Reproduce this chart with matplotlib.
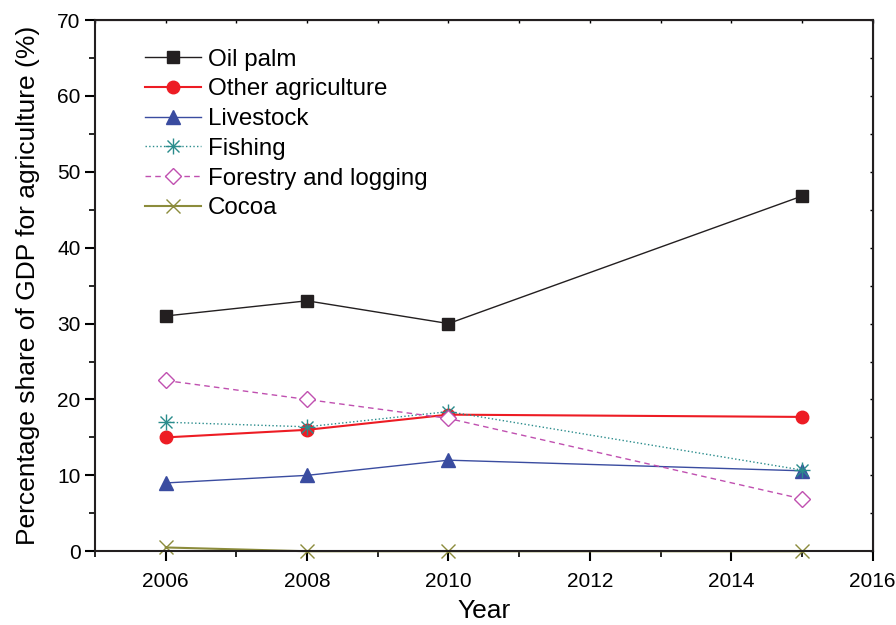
import matplotlib
matplotlib.use('Agg')
import matplotlib.pyplot as plt
from matplotlib.ticker import MultipleLocator

plt.rcParams['font.family'] = ['Liberation Sans', 'DejaVu Sans']

years = [2006, 2008, 2010, 2015]
oil_palm = [31, 33, 30, 46.8]
other_agri = [15, 16, 18, 17.7]
livestock = [9, 10, 12, 10.6]
fishing = [17, 16.4, 18.4, 10.7]
forestry = [22.5, 20, 17.5, 6.9]
cocoa = [0.5, 0, 0, 0]

fig = plt.figure(figsize=(8.96, 6.25), dpi=100)
ax = fig.add_axes([0.106, 0.118, 0.868, 0.85])

ax.plot(years, oil_palm, color='#231f20', lw=1, marker='s', ms=8, label='Oil palm')
ax.plot(years, other_agri, color='#ed1c24', lw=1.5, marker='o', ms=9, label='Other agriculture')
ax.plot(years, livestock, color='#3a4ca0', lw=1, marker='^', ms=10, label='Livestock')
# asterisk marker = x + plus drawn together
fish_line, = ax.plot(years, fishing, color='#2a8c8c', lw=1, ls=':', marker='x', ms=9, mew=1)
fish_plus, = ax.plot(years, fishing, color='#2a8c8c', lw=0, marker='+', ms=12, mew=1)
ax.plot(years, forestry, color='#c050b0', lw=1, ls=(0, (4, 3)), marker='D', ms=8,
        mfc='white', label='Forestry and logging')
ax.plot(years, cocoa, color='#8c8c3c', lw=1.5, marker='x', ms=10, mew=1, label='Cocoa',
        clip_on=False)

ax.set_xlim(2005, 2016)
ax.set_ylim(0, 70)
ax.set_xticks([2006, 2008, 2010, 2012, 2014, 2016])
ax.xaxis.set_minor_locator(MultipleLocator(1))
ax.yaxis.set_major_locator(MultipleLocator(10))
ax.yaxis.set_minor_locator(MultipleLocator(5))
ax.tick_params(which='major', direction='out', length=7, width=1.5, labelsize=15)
ax.tick_params(which='minor', direction='out', length=4, width=1.2)
ax.tick_params(axis='x', which='major', pad=8)
for s in ax.spines.values():
    s.set_linewidth(1.5)
    s.set_color('#231f20')

# tiny inward ticks on top and right
top = ax.secondary_xaxis('top')
top.xaxis.set_major_locator(MultipleLocator(1))
top.tick_params(direction='in', length=2.5, width=1, labeltop=False)
right = ax.secondary_yaxis('right')
right.yaxis.set_major_locator(MultipleLocator(5))
right.tick_params(direction='in', length=2.5, width=1, labelright=False)

ax.set_xlabel('Year', fontsize=19, labelpad=6)
ax.set_ylabel('Percentage share of GDP for agriculture (%)', fontsize=19, labelpad=12)

handles, labels = ax.get_legend_handles_labels()
handles.insert(3, (fish_line, fish_plus))
labels.insert(3, 'Fishing')
leg = ax.legend(handles, labels, loc='upper left', bbox_to_anchor=(0.043, 0.978), frameon=False,
                fontsize=17.4, handlelength=2.3, handletextpad=0.3, labelspacing=0.32,
                borderaxespad=0.3)

fig.savefig('out.png', dpi=100)
